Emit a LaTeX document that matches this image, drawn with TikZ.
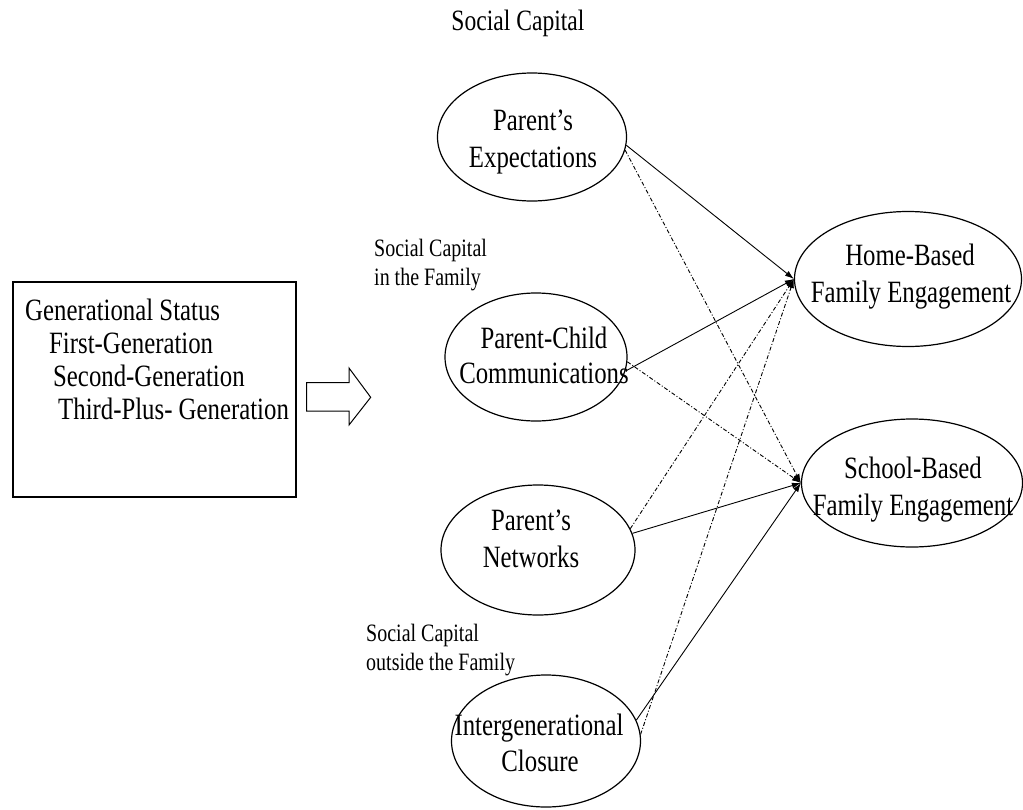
\documentclass[tikz,border=0pt]{standalone}
\usepackage{fontspec}
\setmainfont[FakeStretch=0.8]{Liberation Serif}
\usetikzlibrary{arrows.meta,shapes.geometric}

\begin{document}
\begin{tikzpicture}[x=1pt,y=-1pt,
  oval/.style={draw,line width=1.2pt,ellipse,inner sep=0pt},
  label text/.style={align=center,font=\fontsize{31}{37}\selectfont,inner sep=0pt,anchor=base},
  note/.style={align=left,font=\fontsize{25}{29}\selectfont,inner sep=0pt,anchor=base west},
  solidlink/.style={line width=0.9pt,-{Latex[length=9pt,width=6pt]}},
  dotlink/.style={line width=0.9pt,dash pattern=on 4pt off 2pt on 1pt off 2pt,-{Latex[length=9pt,width=6pt]}}
]
\useasboundingbox (0,0) rectangle (1023,809);

% title
\node[font=\fontsize{29.5}{36}\selectfont,anchor=base,inner sep=0pt] (title) at (518,30) {Social Capital};

% generational status box (base anchor of a multi-line node is its last line)
\node[draw,line width=1.2pt,minimum width=283pt,minimum height=215pt,inner sep=0pt] (gen) at (154.5,389.5) {};
\node[font=\fontsize{31}{33}\selectfont,align=left,inner sep=0pt,anchor=base west] (gentext) at (25,419)
  {Generational Status\\
   \hspace{24pt}First-Generation\\
   \hspace{28pt}Second-Generation\\
   \hspace{33pt}Third-Plus- Generation};

% block arrow
\draw[line width=1pt] (306.7,382.7) coordinate (ba) -- (349,382.7) -- (349,368) -- (370.7,397.3)
  -- (349,425) -- (349,411) -- (306.7,411) -- cycle;

% social capital ellipses
\node[oval,minimum width=189pt,minimum height=128pt] (pe) at (532,137) {};
\node[oval,minimum width=182pt,minimum height=128pt] (pc) at (536,357) {};
\node[oval,minimum width=194pt,minimum height=130pt] (pn) at (538,550) {};
\node[oval,minimum width=189pt,minimum height=132pt] (ic) at (546,741) {};

\node[label text] (pe-a) at (533,130) {Parent’s};
\node[label text] (pe-b) at (533,167) {Expectations};
\node[label text] (pc-a) at (544,348) {Parent-Child};
\node[label text] (pc-b) at (544,383) {Communications};
\node[label text] (pn-a) at (531,530) {Parent’s};
\node[label text] (pn-b) at (531,567) {Networks};
\node[label text] (ic-a) at (539,735) {Intergenerational};
\node[label text] (ic-b) at (540,771) {Closure};

% engagement ellipses
\node[oval,minimum width=227pt,minimum height=135pt] (hb) at (908,279) {};
\node[oval,minimum width=221pt,minimum height=128pt] (sb) at (912,483) {};
\node[label text] (hb-a) at (910,265) {Home-Based};
\node[label text] (hb-b) at (911,302) {Family Engagement};
\node[label text] (sb-a) at (913,478) {School-Based};
\node[label text] (sb-b) at (913,515) {Family Engagement};

% group notes
\node[note] (in-fam) at (374,285) {Social Capital\\in the Family};
\node[note] (out-fam) at (366,670) {Social Capital\\outside the Family};

% paths
\draw[solidlink] (pe.-5) -- (hb.west);
\draw[dotlink]   (pe.-8) -- (sb.west);
\draw[solidlink] (pc.-9) -- (hb.west);
\draw[dotlink]   (pc.-3) -- (sb.west);
\draw[solidlink] (pn.10) -- (sb.west);
\draw[dotlink]   (pn.13) -- (hb.west);
\draw[solidlink] (ic.13) -- (sb.west);
\draw[dotlink]   (ic.4)  -- (hb.west);
\end{tikzpicture}
\end{document}
